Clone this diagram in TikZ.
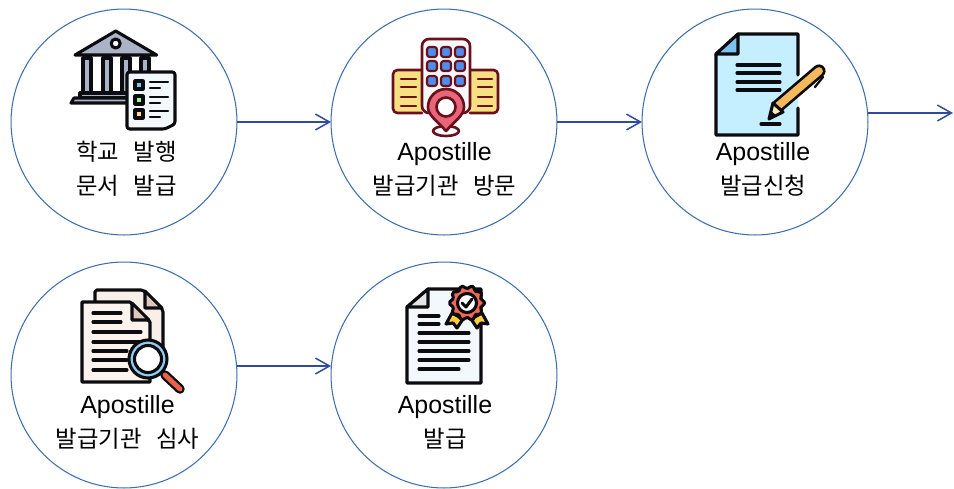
\documentclass[tikz,border=0pt]{standalone}
\usepackage{fontspec}
\setmainfont{Noto Sans CJK KR}
\newfontfamily\latinfam{Liberation Sans}
\usepackage{xcolor}
\definecolor{ringAzul}{RGB}{62, 110, 170}
\definecolor{flecha}{RGB}{46, 75, 160}
\definecolor{tinta}{RGB}{12, 12, 16}
\definecolor{gris}{RGB}{170, 180, 198}
\definecolor{marron}{RGB}{105, 16, 28}
\definecolor{amarillo}{RGB}{246, 224, 130}
\definecolor{rosa}{RGB}{232, 102, 122}
\definecolor{azul}{RGB}{78, 142, 232}
\definecolor{celeste}{RGB}{197, 238, 255}
\definecolor{cielo}{RGB}{124, 196, 238}
\definecolor{naranja}{RGB}{245, 184, 90}
\definecolor{crema}{RGB}{252, 243, 238}
\definecolor{piel}{RGB}{222, 200, 190}
\definecolor{salmon}{RGB}{240, 104, 90}
\definecolor{oro}{RGB}{248, 208, 60}
\definecolor{hoja}{RGB}{243, 248, 252}
\usetikzlibrary{arrows.meta,positioning}
\tikzstyle{stepnode}=[circle, draw=ringAzul, minimum size=128.6pt,
                    line width=0.6pt, inner sep=0pt, outer sep=0pt]
\tikzstyle{steptext}=[align=center, inner sep=0pt,
                    font=\fontsize{13.3}{19.4}\selectfont]
\tikzstyle{edge}=[draw=flecha, line width=0.85pt,
                    -{Straight Barb[length=8pt,width=9pt]}]
\tikzstyle{ink}=[draw=tinta, line width=1.75pt, line join=round, line cap=round]
\tikzstyle{maroon}=[draw=marron, line width=1.5pt, line join=round, line cap=round]
\newcommand{\apo}{{\latinfam\fontsize{14.2}{19.4}\selectfont Apostille}}
\newcommand{\gap}{ \hspace{5.5pt}}

\begin{document}
\begin{tikzpicture}[x=0.02cm,y=-0.02cm]
    \useasboundingbox (0,0) rectangle (954,488);

    \node (c1) at (124,122) [stepnode] {};
    \node (c2) at (444,122) [stepnode] {};
    \node (c3) at (755,122) [stepnode] {};
    \node (c4) at (124,375) [stepnode] {};
    \node (c5) at (444,375) [stepnode] {};
    \coordinate (fin) at (953,113);
    \coordinate (nivel) at (284,366);

    \node (t1) at (126.5,168.5) [steptext] {학교\gap 발행\\문서\gap 발급};
    \node (t2) at (444.5,169.5) [steptext] {\apo\\발급기관\gap 방문};
    \node (t3) at (763,169.5) [steptext] {\apo\\발급신청};
    \node (t4) at (127.5,422.5) [steptext] {\apo\\발급기관\gap 심사};
    \node (t5) at (445,422.5) [steptext] {\apo\\발급};

    \draw [edge] (c1) -- (c2);
    \draw [edge] (c2) -- (c3);
    \draw [edge] (c3.east |- fin) -- (fin);
    \draw [edge] (c4.east |- nivel) -- (c5.west |- nivel);

    % bank
    \foreach \i in {83,103,122,141}
        \draw [ink,fill=gris] (\i,58) rectangle (\i+8,93);
    \draw [ink,fill=gris] (75,55) -- (115.7,31) -- (156.7,55) -- cycle;
    \draw [ink,fill=white] (115.7,43.5) circle (4.5);
    \draw [ink,fill=gris] (80,93) -- (150,93) -- (150,98) -- (80,98) -- cycle;
    \draw [ink,fill=gris] (74,98) -- (150,98) -- (150,103) -- (71,103) -- cycle;
    \draw [ink,fill=hoja,rounded corners=1.5pt] (127,72) -- (175,72) -- (175,124) -- (165,129) -- (127,129) -- cycle;
    \foreach \y/\c in {85/cielo,100/green!40,114/amarillo} {
        \draw [ink,fill=\c] (135,\y-4) rectangle (143,\y+4);
        \draw [tinta,line width=1.3pt,line cap=round] (150,\y-3) -- (168,\y-3);
        \draw [tinta,line width=1.3pt,line cap=round] (150,\y+3) -- (160,\y+3);
    }

    % tower and pin
    \draw [maroon,fill=amarillo,rounded corners=2.5pt] (422,70) -- (393,70) -- (393,113) -- (422,113);
    \draw [maroon,fill=amarillo,rounded corners=2.5pt] (470,70) -- (498,70) -- (498,113) -- (470,113);
    \draw [maroon,fill=gray!6,rounded corners=4pt] (422,113) -- (422,39) -- (470,39) -- (470,113) -- cycle;
    \foreach \x in {432,446,460} \foreach \y in {52,66,81}
        \draw [maroon,line width=1.2pt,fill=azul,rounded corners=1.5pt] (\x-5,\y-5) rectangle (\x+5,\y+5);
    \foreach \y in {79,87,97,106} {
        \draw [maroon] (401,\y) -- (416,\y);
        \draw [maroon] (478,\y) -- (492,\y);
    }
    \draw [maroon,fill=white] (446,131) ellipse (13 and 5);
    \draw [maroon,fill=rosa] (446,131) .. controls (436,120) and (428,115) .. (428,107)
        arc (180:360:18) .. controls (464,115) and (456,120) .. (446,131) -- cycle;
    \draw [maroon,fill=white] (446,107) circle (9.5);

    % form and pen
    \fill [celeste] (738,34) -- (798,34) -- (798,135) -- (716,135) -- (716,54) -- cycle;
    \draw [ink] (798,75) -- (798,34) -- (738,34) -- (716,54) -- (716,135) -- (798,135) -- (798,108);
    \draw [ink,fill=cielo] (738,34) -- (738,54) -- (716,54) -- cycle;
    \foreach \y in {65,73,82,90}
        \draw [ink] (737,\y) -- (780,\y);
    \draw [ink] (761,124) -- (780,124);
    \draw [tinta,line width=7.5pt,line cap=round] (778,106) -- (819,71);
    \draw [naranja,line width=4.4pt,line cap=round] (778,106) -- (819,71);
    \draw [ink,fill=amarillo!60] (769,119) -- (773,103) -- (783,112) -- cycle;
    \fill [tinta] (769,119) -- (771,111) -- (776,115) -- cycle;
    \draw [ink,line width=1.3pt] (823,77) -- (815,87);

    % papers and lens
    \draw [ink,fill=crema!90!piel,rounded corners=1pt] (95,302) -- (95,290) -- (143,290) -- (163,310) -- (163,370);
    \draw [ink,fill=piel] (145,291) -- (145,308) -- (162,308) -- cycle;
    \draw [ink,fill=crema] (82,302) -- (130,302) -- (150,322) -- (150,382) -- (82,382) -- cycle;
    \draw [ink,fill=piel] (132,303) -- (132,320) -- (149,320) -- cycle;
    \foreach \y in {313,322}
        \draw [ink] (93,\y) -- (121,\y);
    \foreach \y in {332,342}
        \draw [ink] (93,\y) -- (141,\y);
    \foreach \y in {351,360,370}
        \draw [ink] (93,\y) -- (127,\y);
    \draw [tinta,line width=5.4pt,line cap=round] (165,375) -- (180,389);
    \draw [red!55!brown!80!white,line width=2.8pt,line cap=round] (165,375) -- (180,389);
    \draw [ink,fill=cielo!85!white] (148,359) circle (19);
    \draw [ink,fill=white] (148,359) circle (13.5);

    % certificate
    \draw [ink,fill=hoja] (428,289) -- (481,289) -- (481,383) -- (407,383) -- (407,307) -- cycle;
    \draw [ink,fill=gray!20] (428,289) -- (428,307) -- (407,307) -- cycle;
    \foreach \y in {316,324}
        \draw [ink] (419,\y) -- (439,\y);
    \foreach \y in {333,342,351,360}
        \draw [ink] (419,\y) -- (469,\y);
    \draw [ink] (419,369) -- (459,369);
    \draw [ink,fill=oro] (452,313) -- (463,319) -- (457,328) -- (453,323) -- (446,324) -- cycle;
    \draw [ink,fill=oro] (482,313) -- (471,319) -- (477,328) -- (481,323) -- (488,324) -- cycle;
    \draw [ink,fill=salmon] plot [smooth cycle,samples=41,domain=0:351]
        ({467+(16+1.6*cos(10*\x))*cos(\x)},{303+(16+1.6*cos(10*\x))*sin(\x)});
    \draw [ink,fill=white] (467,303) circle (9.5);
    \draw [ink] (462,303) -- (466,307) -- (472,299);
\end{tikzpicture}
\end{document}
